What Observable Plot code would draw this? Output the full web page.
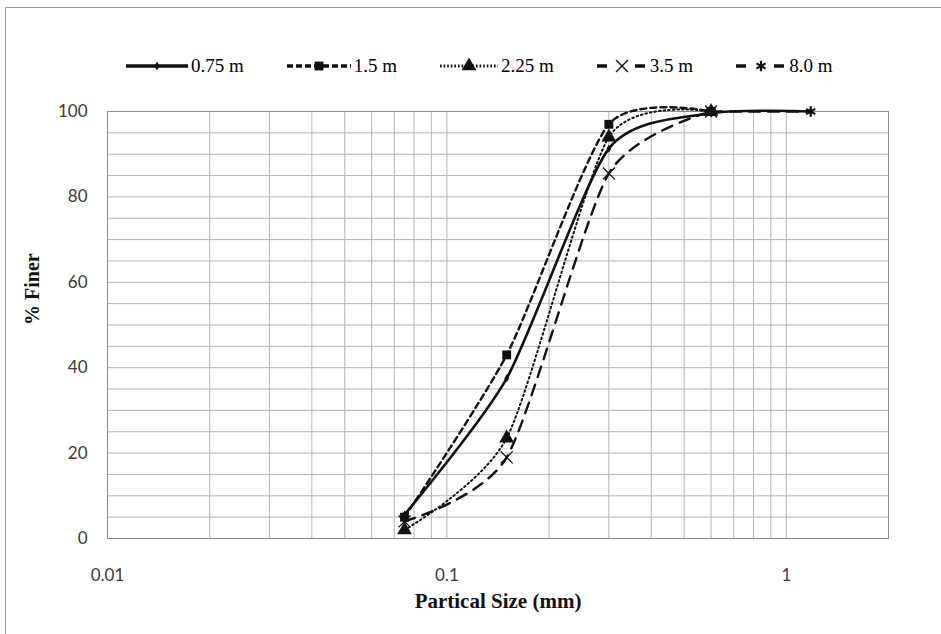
<!DOCTYPE html>
<html>
<head>
<meta charset="utf-8">
<script src="https://cdn.jsdelivr.net/npm/d3@7"></script>
<script src="https://cdn.jsdelivr.net/npm/@observablehq/plot@0.6"></script>
<style>
  body { margin: 0; background: #fff; width: 941px; height: 634px; overflow: hidden; position: relative; }
  #border { position: absolute; left: 5px; top: 7px; right: -2px; bottom: -2px; border-left: 1px solid #9a9a9a; border-top: 1px solid #9a9a9a; pointer-events: none; }
  #legend { height: 90px; box-sizing: border-box; display: flex; justify-content: flex-start; align-items: flex-end; padding-bottom: 13px; padding-left: 125px; gap: 42px; font-family: "Liberation Serif", "Times New Roman", serif; font-size: 19px; color: #000; }
  .item { display: flex; align-items: center; height: 22px; }
  .item svg { margin-right: 2px; }
</style>
</head>
<body>
<div id="legend"></div>
<div id="chart"></div>
<div id="border"></div>
<script>
// ---- data ----
const sieveSizes = [0.075, 0.15, 0.3, 0.6, 1.18];           // mm
const depth075 = [5.6, 37.5, 91.3, 99.6, 100];               // 0.75 m
const depth150 = [5.0, 43.0, 97.0, 100.0];                    // 1.5 m
const depth225 = [2.0, 23.5, 94.0, 100.0];                    // 2.25 m
const depth350 = [4.0, 19.0, 85.5, 100.0];                    // 3.5 m
const depth800 = [null, null, null, 100.0, 100.0];            // 8.0 m
const seriesNames = ["0.75 m", "1.5 m", "2.25 m", "3.5 m", "8.0 m"];
const xTicks = [0.01, 0.1, 1];
const yTicks = [0, 20, 40, 60, 80, 100];

// styles per series
const styles = {
  "0.75 m": {dash: null, width: 2.6, symbol: "diamond", r: 2.5, filled: true, legendDash: null, lw: 64},
  "1.5 m":  {dash: "6,4", width: 2.4, symbol: "square", r: 5, filled: true, legendDash: "6,3", lw: 66},
  "2.25 m": {dash: "1.6,3", width: 2, symbol: "triangle", r: 5.5, filled: true, legendDash: "1.6,2", lw: 60},
  "3.5 m":  {dash: "11,8", width: 2.4, symbol: "times", r: 5.5, filled: false, legendDash: "10,9", lw: 52},
  "8.0 m":  {dash: "11,8", width: 2.4, symbol: "asterisk", r: 5, filled: false, legendDash: "10,9", lw: 52}
};

const valueLists = [depth075, depth150, depth225, depth350, depth800];
const rows = [];
seriesNames.forEach((name, i) => {
  valueLists[i].forEach((v, j) => {
    if (v != null) rows.push({series: name, size: sieveSizes[j], pct: v});
  });
});

// grid positions
const xGrid = [];
for (const dec of [0.01, 0.1, 1]) for (let k = 1; k <= 9; k++) { const v = +(k * dec).toPrecision(3); if (v <= 2) xGrid.push(v); }
const yGrid = d3.range(0, 101, 5);

const drawOrder = ["8.0 m", "3.5 m", "2.25 m", "1.5 m", "0.75 m"];
const lineMarks = drawOrder.map(name => Plot.line(rows.filter(d => d.series === name), {
  x: "size", y: "pct", curve: "cardinal", tension: 0.3,
  stroke: "#111", strokeWidth: styles[name].width, strokeDasharray: styles[name].dash
}));
const dotMarks = seriesNames.map(name => {
  const s = styles[name];
  return Plot.dot(rows.filter(d => d.series === name), s.filled
    ? {x: "size", y: "pct", symbol: () => s.symbol, r: s.r, fill: "#111", stroke: "none"}
    : {x: "size", y: "pct", symbol: () => s.symbol, r: s.r, fill: "none", stroke: "#111", strokeWidth: s.symbol === "asterisk" ? 2.2 : 1.3});
});

const chart = Plot.plot({
  width: 941, height: 544,
  marginTop: 21, marginBottom: 96, marginLeft: 107, marginRight: 53,
  style: {fontFamily: "Lato, 'Open Sans', sans-serif", fontSize: "17px", color: "#3a3a3a", background: "transparent", overflow: "visible"},
  x: {type: "log", domain: [0.01, 2], ticks: xTicks, tickFormat: d => String(d), tickSize: 0, tickPadding: 30, label: null},
  y: {domain: [0, 100], ticks: yTicks, tickSize: 0, tickPadding: 20, label: null},
  symbol: {type: "identity"},
  marks: [
    Plot.ruleX(xGrid, {stroke: "#b4b4b4", strokeWidth: 1}),
    Plot.ruleY(yGrid, {stroke: "#b4b4b4", strokeWidth: 1}),
    Plot.frame({stroke: "#8c8c8c", strokeWidth: 1}),
    ...lineMarks,
    ...dotMarks,
    Plot.text(["% Finer"], {frameAnchor: "left", dx: -75, rotate: -90, fontFamily: "Liberation Serif, serif", fontWeight: "bold", fontSize: 20, fill: "#111"}),
    Plot.text(["Partical Size (mm)"], {frameAnchor: "bottom", dy: 69, fontFamily: "Liberation Serif, serif", fontWeight: "bold", fontSize: 21, fill: "#111"})
  ]
});
document.getElementById("chart").appendChild(chart);

// ---- legend ----
const symMap = {diamond: d3.symbolDiamond, square: d3.symbolSquare, triangle: d3.symbolTriangle, times: d3.symbolTimes, asterisk: d3.symbolAsterisk};
const legend = d3.select("#legend");
seriesNames.forEach(name => {
  const s = styles[name];
  const item = legend.append("div").attr("class", "item");
  const w = s.lw;
  const svg = item.append("svg").attr("width", w).attr("height", 22);
  svg.append("line").attr("x1", 1).attr("x2", w - 1).attr("y1", 11).attr("y2", 11)
    .attr("stroke", "#111").attr("stroke-width", s.width + 1)
    .attr("stroke-dasharray", s.legendDash);
  const area = Math.PI * s.r * s.r * (s.symbol === "diamond" ? 1.2 : 1);
  if (!s.filled) svg.append("rect").attr("x", w / 2 - 7).attr("y", 3).attr("width", 14).attr("height", 16).attr("fill", "#fff");
  const p = svg.append("path").attr("transform", `translate(${w / 2},11)`)
    .attr("d", d3.symbol(symMap[s.symbol], area)());
  if (s.filled) p.attr("fill", "#111");
  else p.attr("fill", "none").attr("stroke", "#111").attr("stroke-width", s.symbol === "asterisk" ? 2.2 : 1.3);
  item.append("span").text(name);
});
</script>
</body>
</html>
